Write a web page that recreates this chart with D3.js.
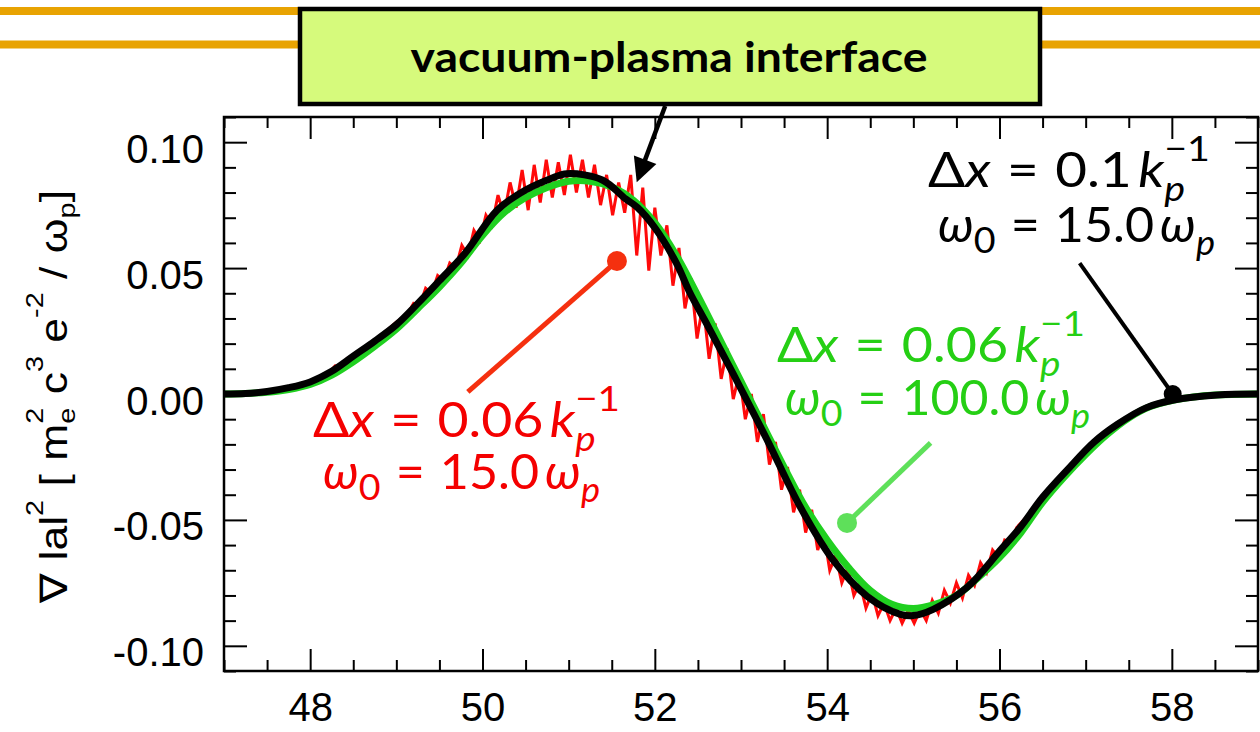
<!DOCTYPE html>
<html><head><meta charset="utf-8">
<script src="https://cdn.jsdelivr.net/npm/d3@7"></script>
<style>body{margin:0;background:#fff}svg{display:block}</style>
</head><body><svg id="c" width="1260" height="732"></svg>
<script>
// ---------------- data ----------------
const xTicks = [48, 50, 52, 54, 56, 58];
const xTickLabels = ["48", "50", "52", "54", "56", "58"];
const yTicks = [-0.10, -0.05, 0.00, 0.05, 0.10];
const yTickLabels = ["-0.10", "-0.05", "0.00", "0.05", "0.10"];

// Δx = 0.06, ω0 = 100 (green, smooth)
const greenX = [47.0,47.25,47.5,47.75,48.0,48.25,48.5,48.75,49.0,49.25,49.5,49.75,50.0,50.25,50.5,50.75,51.0,51.25,51.5,51.75,52.0,52.25,52.5,52.75,53.0,53.25,53.5,53.75,54.0,54.25,54.5,54.75,55.0,55.25,55.5,55.75,56.0,56.25,56.5,56.75,57.0,57.25,57.5,57.75,58.0,58.25,58.5,59.0];
const greenY = [0,0.0002,0.0007,0.0018,0.0038,0.0075,0.0128,0.019,0.0258,0.034,0.0425,0.052,0.063,0.072,0.078,0.082,0.0845,0.0845,0.0822,0.077,0.068,0.055,0.039,0.022,0.005,-0.012,-0.029,-0.045,-0.058,-0.069,-0.078,-0.0835,-0.0852,-0.0835,-0.080,-0.073,-0.065,-0.055,-0.043,-0.033,-0.024,-0.016,-0.0095,-0.005,-0.0026,-0.0012,-0.0004,0];

// Δx = 0.1, ω0 = 15 (black)
const blackX = [47.0,47.25,47.5,47.75,48.0,48.25,48.5,48.75,49.0,49.25,49.5,49.8,50.17,50.5,50.79,50.98,51.39,51.66,51.8,52.0,52.25,52.41,52.6,52.91,53.3,53.69,54.07,54.47,54.85,55.0,55.23,55.63,56.01,56.24,56.5,56.79,57.1,57.37,57.7,58.02,58.53,59.0];
const blackY = [0,0.0002,0.001,0.0025,0.0048,0.009,0.015,0.021,0.0275,0.036,0.045,0.056,0.073,0.081,0.0855,0.0875,0.085,0.0775,0.074,0.066,0.052,0.040,0.028,0.008,-0.018,-0.045,-0.066,-0.0805,-0.0875,-0.088,-0.0855,-0.0766,-0.062,-0.053,-0.041,-0.030,-0.019,-0.012,-0.0055,-0.0024,-0.0004,0];

// Δx = 0.06, ω0 = 15 (red, noisy)
const redX = [47.0,47.5,48.0,48.22,48.29,48.36,48.43,48.5,48.8,49.0,49.13,
 49.20,49.27,49.34,49.41,49.48,49.55,49.62,49.69,49.76,49.83,
 49.90,49.97,50.04,50.11,50.18,50.25,50.32,50.39,50.46,50.53,
 50.60,50.67,50.74,50.81,50.88,50.95,51.02,51.09,51.16,51.23,
 51.30,51.37,51.44,51.51,51.58,51.65,51.72,51.79,51.86,51.93,
 52.00,52.07,52.14,52.21,52.28,52.35,52.42,52.49,52.56,52.63,
 52.70,52.77,52.84,52.91,52.98,53.05,53.12,53.19,53.26,53.33,
 53.40,53.47,53.54,53.61,53.68,53.75,53.82,53.89,53.96,54.03,
 54.10,54.17,54.24,54.31,54.38,54.45,54.52,54.59,54.66,54.73,
 54.80,54.87,54.94,55.01,55.08,55.15,55.22,55.29,55.36,55.43,
 55.50,55.57,55.64,55.71,55.78,55.85,55.92,55.99,56.06,56.13,
 56.20,56.5,56.79,57.1,57.37,57.7,58.02,58.53,59.0];
const redY = [0,0.001,0.0048,0.0085,0.0112,0.0108,0.0142,0.0150,0.0225,0.0285,0.0318,
 0.036,0.035,0.042,0.040,0.047,0.045,0.052,0.050,0.059,0.055,
 0.065,0.061,0.071,0.067,0.079,0.071,0.084,0.074,0.089,0.073,
 0.091,0.076,0.093,0.078,0.092,0.079,0.095,0.080,0.093,0.078,
 0.091,0.075,0.087,0.071,0.084,0.072,0.087,0.055,0.082,0.049,
 0.074,0.055,0.067,0.043,0.058,0.034,0.046,0.022,0.036,0.014,
 0.028,0.006,0.018,-0.002,0.008,-0.010,0.000,-0.019,-0.008,-0.028,
 -0.019,-0.038,-0.029,-0.047,-0.038,-0.055,-0.046,-0.062,-0.055,-0.070,
 -0.064,-0.075,-0.069,-0.080,-0.075,-0.085,-0.079,-0.088,-0.083,-0.090,
 -0.085,-0.091,-0.086,-0.091,-0.0855,-0.090,-0.082,-0.087,-0.078,-0.083,
 -0.075,-0.081,-0.072,-0.076,-0.067,-0.071,-0.062,-0.065,-0.058,-0.059,
 -0.053,-0.042,-0.0305,-0.019,-0.0118,-0.0055,-0.0024,-0.0004,0];

const titleText = "vacuum-plasma interface";

// ---------------- layout ----------------
const svg = d3.select("#c");
const W = 1260, H = 732;
const L = 224, R = 1258, T = 117, B = 671;
const x = d3.scaleLinear().domain([47, 59]).range([L, R]);
const y = d3.scaleLinear().domain([-0.11, 0.11]).range([B, T]);
const tickFont = "'Liberation Sans', Arial, Helvetica, sans-serif";
const mathFont = "Lato, 'Open Sans', 'Noto Sans', sans-serif";

// orange header lines
[11, 44.5].forEach(yy => svg.append("line").attr("x1", 0).attr("x2", W).attr("y1", yy).attr("y2", yy)
  .attr("stroke", "#e8a302").attr("stroke-width", 8));

// axes
const xMinor = d3.range(47, 59.01, 0.5).filter(v => xTicks.indexOf(Math.round(v * 100) / 100) < 0);
const yMinor = d3.range(-0.11, 0.1101, 0.01).map(v => Math.round(v * 100) / 100).filter(v => Math.abs(Math.round(v * 100)) % 5 !== 0);

function styleAxis(g, isBottom) {
  g.select(".domain").remove();
  g.selectAll(".tick line").attr("stroke", "#000").attr("stroke-width", 2);
  g.selectAll("text").attr("font-family", tickFont).attr("font-size", 40).attr("fill", "#000")
    .attr("dy", isBottom ? "0.71em" : "0.5em");
}
svg.append("g").attr("transform", `translate(0,${B})`)
  .call(d3.axisBottom(x).tickValues(xTicks).tickFormat((d, i) => xTickLabels[i]).tickSizeInner(-22).tickSizeOuter(0).tickPadding(22))
  .call(g => styleAxis(g, true));
svg.append("g").attr("transform", `translate(0,${B})`)
  .call(d3.axisBottom(x).tickValues(xMinor).tickFormat("").tickSizeInner(-11).tickSizeOuter(0)).call(g => styleAxis(g, true));
svg.append("g").attr("transform", `translate(0,${T})`)
  .call(d3.axisTop(x).tickValues(xTicks).tickFormat("").tickSizeInner(-22).tickSizeOuter(0)).call(g => styleAxis(g));
svg.append("g").attr("transform", `translate(0,${T})`)
  .call(d3.axisTop(x).tickValues(xMinor).tickFormat("").tickSizeInner(-11).tickSizeOuter(0)).call(g => styleAxis(g));
svg.append("g").attr("transform", `translate(${L},0)`)
  .call(d3.axisLeft(y).tickValues(yTicks).tickFormat((d, i) => yTickLabels[i]).tickSizeInner(-23).tickSizeOuter(0).tickPadding(20))
  .call(g => styleAxis(g));
svg.append("g").attr("transform", `translate(${L},0)`)
  .call(d3.axisLeft(y).tickValues(yMinor).tickFormat("").tickSizeInner(-12).tickSizeOuter(0)).call(g => styleAxis(g));
svg.append("g").attr("transform", `translate(${R},0)`)
  .call(d3.axisRight(y).tickValues(yTicks).tickFormat("").tickSizeInner(-23).tickSizeOuter(0)).call(g => styleAxis(g));
svg.append("g").attr("transform", `translate(${R},0)`)
  .call(d3.axisRight(y).tickValues(yMinor).tickFormat("").tickSizeInner(-12).tickSizeOuter(0)).call(g => styleAxis(g));

// curves
const zip = (xs, ys) => xs.map((v, i) => [v, ys[i]]);
const lineStraight = d3.line().x(d => x(d[0])).y(d => y(d[1]));
const lineSmooth = d3.line().x(d => x(d[0])).y(d => y(d[1])).curve(d3.curveCatmullRom.alpha(0.5));
svg.append("path").datum(zip(redX, redY)).attr("d", lineStraight).attr("fill", "none")
  .attr("stroke", "#ff0a0a").attr("stroke-width", 3).attr("stroke-linejoin", "miter");
svg.append("path").datum(zip(greenX, greenY)).attr("d", lineSmooth).attr("fill", "none")
  .attr("stroke", "#20d020").attr("stroke-width", 7).attr("stroke-linejoin", "round");
svg.append("path").datum(zip(blackX, blackY)).attr("d", lineSmooth).attr("fill", "none")
  .attr("stroke", "#000").attr("stroke-width", 7).attr("stroke-linejoin", "round");

// frame
svg.append("rect").attr("x", L).attr("y", T).attr("width", R - L).attr("height", B - T)
  .attr("fill", "none").attr("stroke", "#000").attr("stroke-width", 2.5);

// rich text helper: base glyphs and stacked scripts in one text element per segment
function rich(parent, segs, size, family, fill) {
  const g = parent.append("g");
  let cx = 0;
  segs.forEach(s => {
    const t = g.append("text").attr("font-family", family).attr("fill", fill).attr("font-size", size);
    const base = t.append("tspan").attr("x", cx).attr("y", 0)
      .attr("font-style", s.it ? "italic" : "normal").text(s.t);
    const w = base.node().getComputedTextLength();
    let adv = w;
    if (s.sub !== undefined || s.sup !== undefined) {
      let mw = 0;
      const ss = size * (s.scale || 0.7);
      if (s.sup !== undefined) {
        const tp = t.append("tspan").attr("x", cx + w + (s.supDx || 0) * size).attr("y", -size * (s.supY || 0.5))
          .attr("font-size", ss).attr("font-style", "normal").text(s.sup);
        mw = Math.max(mw, tp.node().getComputedTextLength() + (s.supDx || 0) * size);
      }
      if (s.sub !== undefined) {
        const ts = t.append("tspan").attr("x", cx + w + (s.subDx || 0) * size).attr("y", size * (s.subY || 0.28))
          .attr("font-size", ss).attr("font-style", s.subIt ? "italic" : "normal").text(s.sub);
        mw = Math.max(mw, ts.node().getComputedTextLength() + (s.subDx || 0) * size);
      }
      adv = w + mw;
    }
    cx += adv + (s.gap || 0) * size;
  });
  return { g, width: cx };
}
function placeLine(segs, size, family, fill, x0, yb, targetW) {
  const r = rich(svg, segs, size, family, fill);
  r.g.attr("transform", `translate(${x0},${yb}) scale(${targetW / r.width},1)`);
}

// y-axis label (rotated)
{
  const segs = [
    { t: "∇", gap: 0.3 }, { t: "lal", sup: "2", supY: 0.62, scale: 0.65, gap: 0.3 }, { t: "[", gap: 0.3 },
    { t: "m", sub: "e", sup: "2", supY: 0.62, subY: 0.22, scale: 0.65, gap: 0.3 },
    { t: "c", sup: "3", supY: 0.62, scale: 0.65, gap: 0.3 },
    { t: "e", sup: "-2", supY: 0.62, scale: 0.65, gap: 0.3 },
    { t: "/", gap: 0.3 }, { t: "ω", sub: "p", subY: 0.22, scale: 0.65 }, { t: "]" }
  ];
  const r = rich(svg, segs, 38, tickFont, "#000");
  r.g.attr("transform", `translate(67,603) rotate(-90) scale(${413 / r.width},1)`);
}

// annotations
function dxLine(num) {
  return [{ t: "Δ" }, { t: "x", it: true, gap: 0.3 }, { t: "=", gap: 0.3 }, { t: num, gap: 0.12 },
    { t: "k", it: true, sub: "p", subIt: true, subY: 0.3, sup: "−1", supY: 0.55, scale: 0.72 }];
}
function wLine(num) {
  return [{ t: "ω", it: true, sub: "0", subY: 0.22, scale: 0.75, gap: 0.3 }, { t: "=", gap: 0.3 }, { t: num, gap: 0.12 },
    { t: "ω", it: true, sub: "p", subIt: true, subY: 0.28, scale: 0.72 }];
}
const redC = "#f40000", greenC = "#25cf14", blackC = "#000";
placeLine(dxLine("0.06"), 48, mathFont, redC, 313, 437, 307);
placeLine(wLine("15.0"), 48, mathFont, redC, 323, 489, 277);
placeLine(dxLine("0.06"), 48, mathFont, greenC, 777, 362, 308);
placeLine(wLine("100.0"), 48, mathFont, greenC, 785, 415, 305);
placeLine(dxLine("0.1"), 48, mathFont, blackC, 928, 187, 282);
placeLine(wLine("15.0"), 48, mathFont, blackC, 938, 242, 277);

// pointer markers
const pointers = [
  { from: [51.56, 0.0528], to: [49.83, 0.0008], c: "#f5300f", w: 5, r: 10 },
  { from: [54.23, -0.0512], to: [55.20, -0.0194], c: "#5ee05a", w: 5, r: 10 },
  { from: [58.01, 0.0000], to: [56.93, 0.0520], c: "#000", w: 4, r: 9 }
];
pointers.forEach(p => {
  svg.append("line").attr("x1", x(p.from[0])).attr("y1", y(p.from[1])).attr("x2", x(p.to[0])).attr("y2", y(p.to[1]))
    .attr("stroke", p.c).attr("stroke-width", p.w);
  svg.append("circle").attr("cx", x(p.from[0])).attr("cy", y(p.from[1])).attr("r", p.r).attr("fill", p.c);
});

// title box
svg.append("rect").attr("x", 300).attr("y", 9).attr("width", 740).attr("height", 95)
  .attr("fill", "#d6fa7c").attr("stroke", "#000").attr("stroke-width", 4.5);
svg.append("text").attr("x", 669).attr("y", 72).attr("text-anchor", "middle")
  .attr("font-family", "Lato, 'Open Sans', sans-serif").attr("font-weight", 700).attr("font-size", 42)
  .attr("textLength", 517).attr("lengthAdjust", "spacingAndGlyphs").attr("fill", "#000").text(titleText);

// arrow from box to interface
{
  const x1 = x(52.12), y1 = 106, x2 = x(51.79), y2 = y(0.0841);
  const dx = x2 - x1, dy = y2 - y1, len = Math.hypot(dx, dy), ux = dx / len, uy = dy / len;
  const hl = 24, hw = 12;
  const bx = x2 - ux * hl, by = y2 - uy * hl;
  svg.append("line").attr("x1", x1).attr("y1", y1).attr("x2", bx + ux * 2).attr("y2", by + uy * 2)
    .attr("stroke", "#000").attr("stroke-width", 4.5);
  svg.append("path").attr("d", `M${x2},${y2}L${bx - uy * hw},${by + ux * hw}L${bx + uy * hw},${by - ux * hw}Z`).attr("fill", "#000");
}
</script></body></html>
